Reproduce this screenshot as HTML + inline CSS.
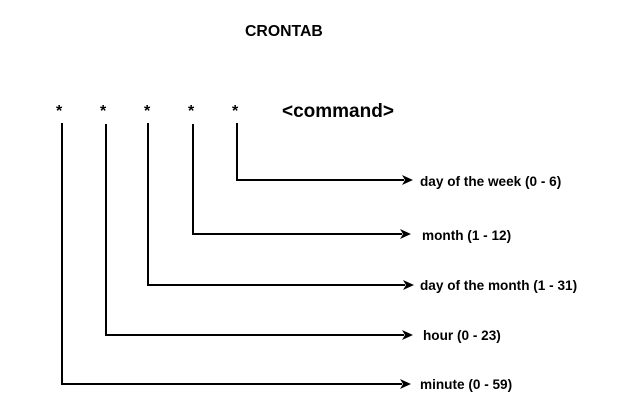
<!DOCTYPE html>
<html><head><meta charset="utf-8"><style>
html,body{margin:0;padding:0;background:#fff;}
svg{display:block;}
text{font-family:"Liberation Sans",Arial,sans-serif;font-weight:bold;fill:#000;}
</style></head><body>
<svg width="626" height="409" viewBox="0 0 626 409" xmlns="http://www.w3.org/2000/svg">
<text x="245" y="36" font-size="15.8">CRONTAB</text>
<g font-size="16">
<text x="56" y="116">*</text>
<text x="100" y="116">*</text>
<text x="144" y="116">*</text>
<text x="188" y="116">*</text>
<text x="232" y="116">*</text>
</g>
<text x="282" y="117" font-size="19">&lt;command&gt;</text>
<g fill="none" stroke="#000" stroke-width="2">
<polyline points="237,123 237,180 404,180"/>
<polyline points="193,124 193,234 402,234"/>
<polyline points="148,123 148,285 405,285"/>
<polyline points="106,124 106,335 404,335"/>
<polyline points="62,123 62,384 402,384"/>
</g>
<g fill="#000">
<polygon points="402,175 413,180 402,185 405,180"/>
<polygon points="400,229 411,234 400,239 403,234"/>
<polygon points="403,280 414,285 403,290 406,285"/>
<polygon points="402,330 413,335 402,340 405,335"/>
<polygon points="400,379 411,384 400,389 403,384"/>
</g>
<g font-size="13.6">
<text x="420" y="186">day of the week (0 - 6)</text>
<text x="422" y="240">month (1 - 12)</text>
<text x="420" y="290">day of the month (1 - 31)</text>
<text x="423" y="340">hour (0 - 23)</text>
<text x="420" y="389">minute (0 - 59)</text>
</g>
</svg>
</body></html>
